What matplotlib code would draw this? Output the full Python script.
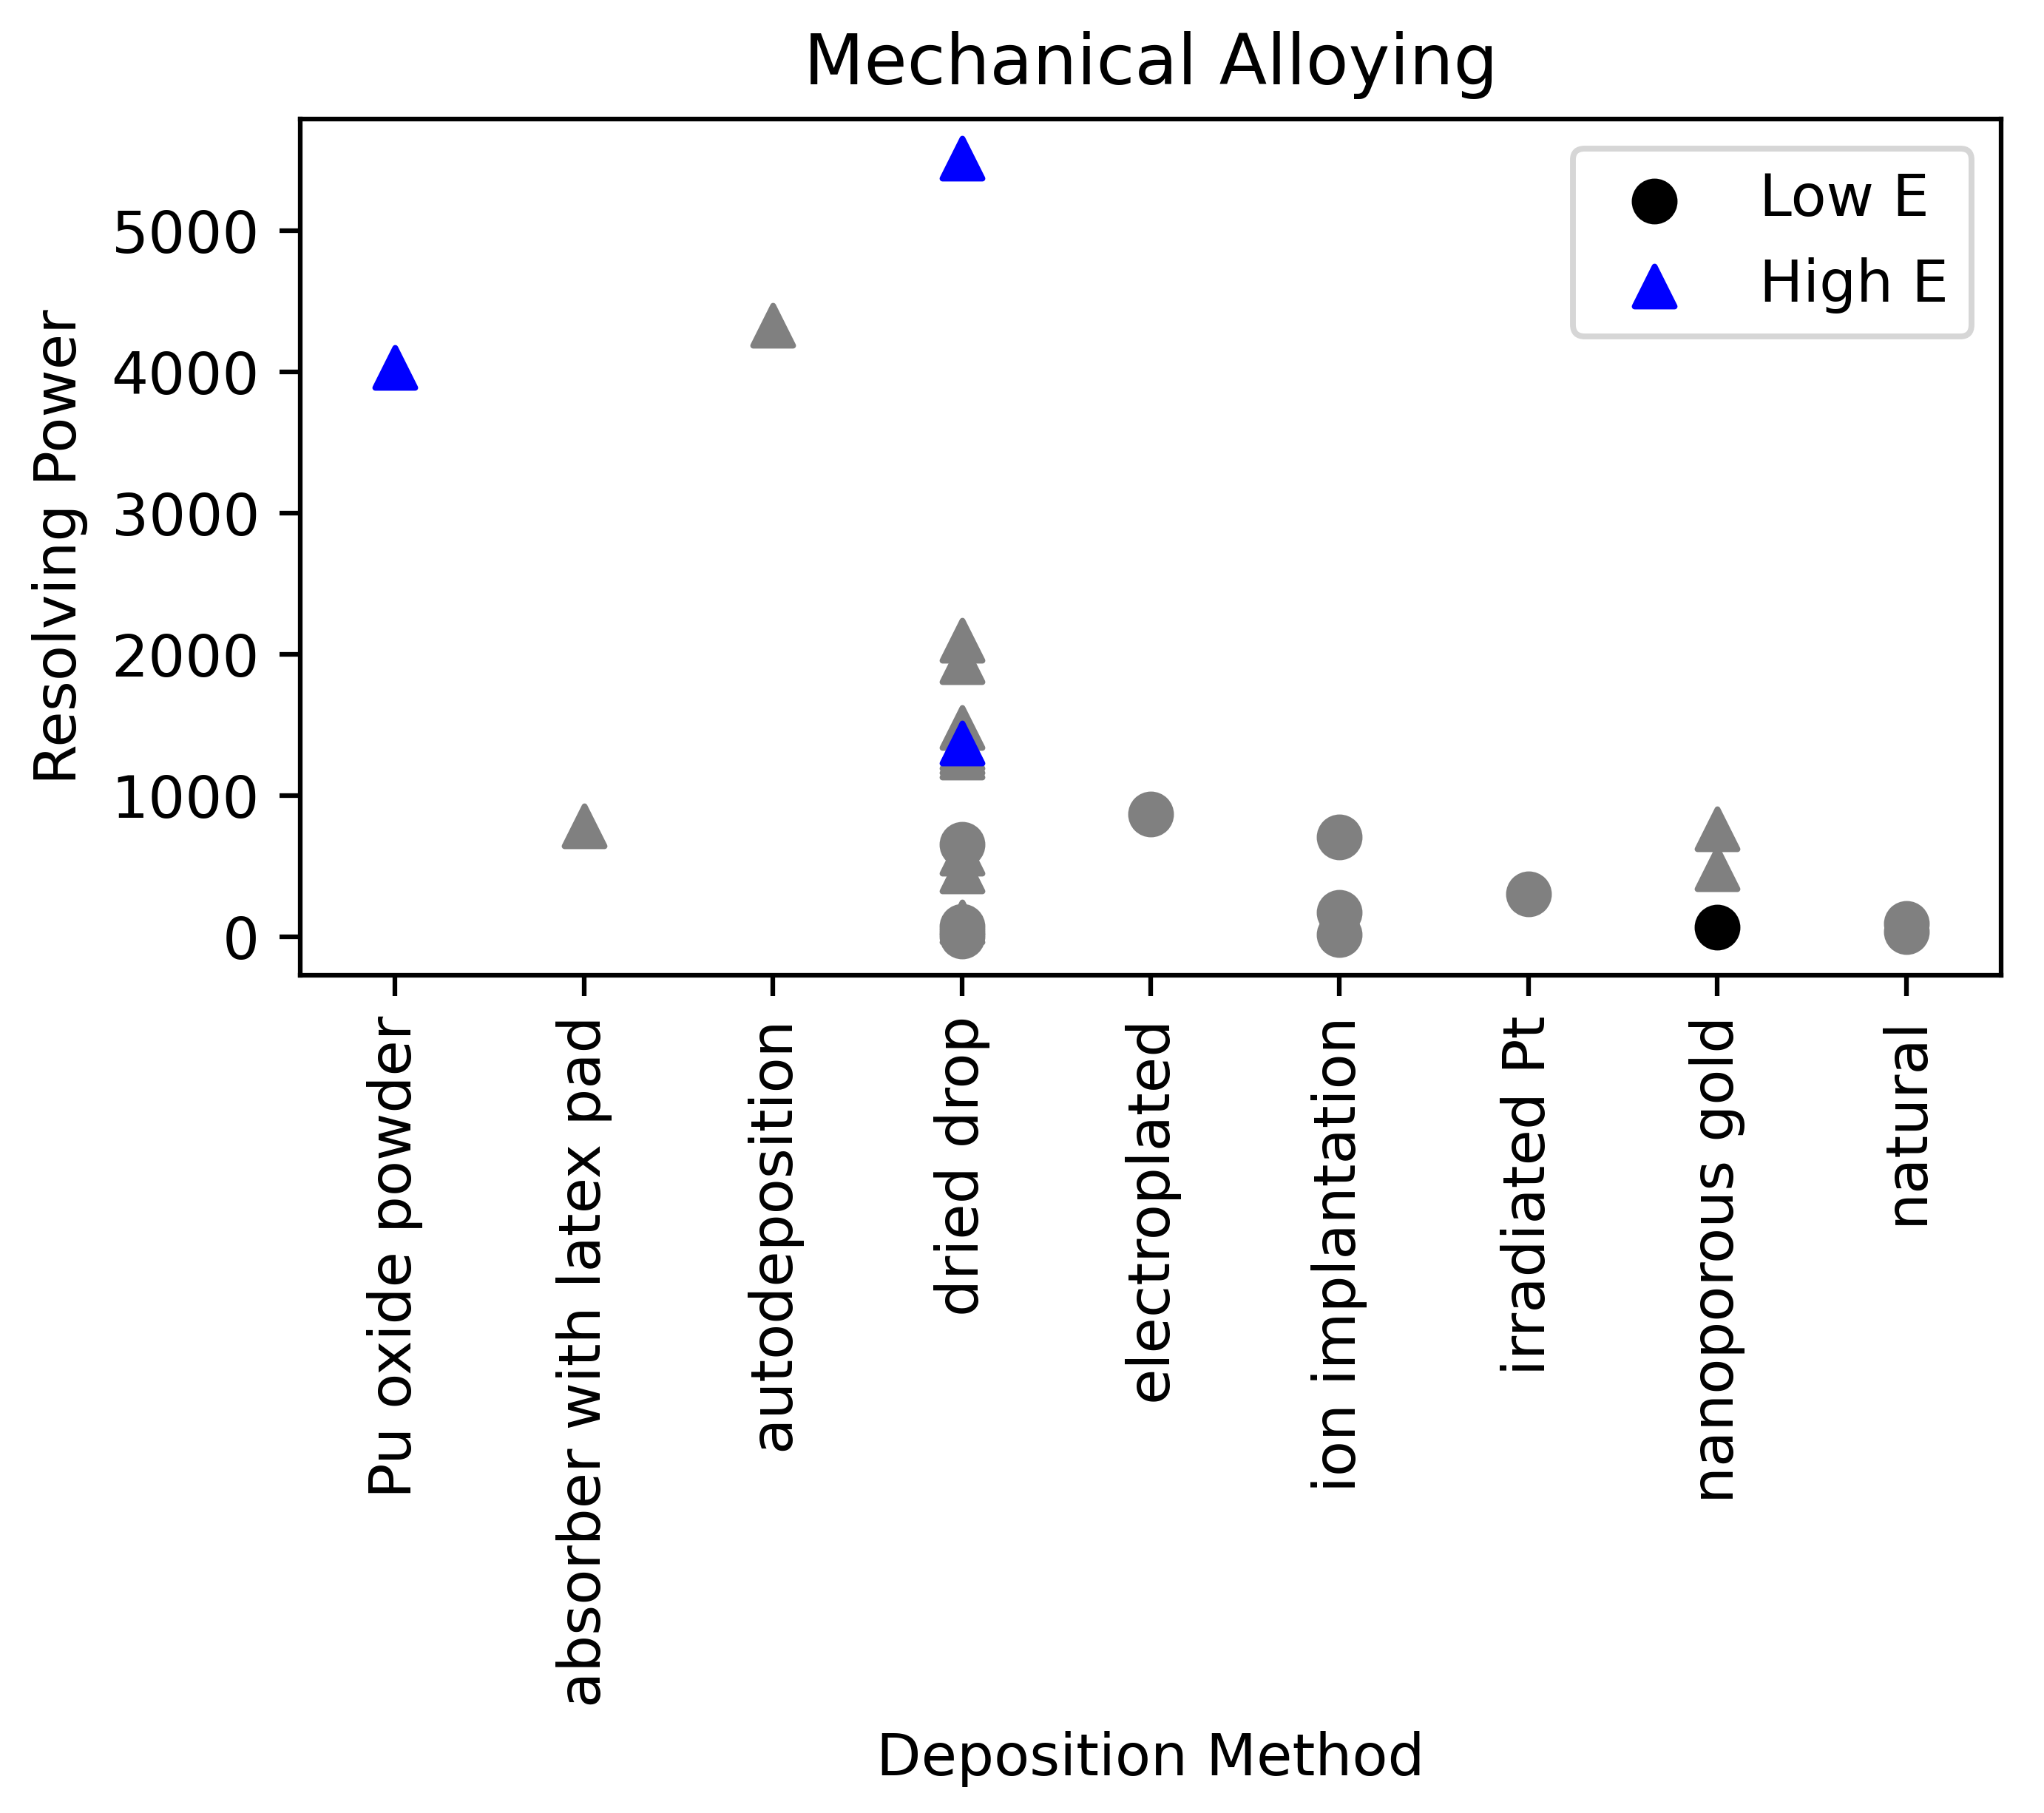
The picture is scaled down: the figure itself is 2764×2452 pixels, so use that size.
import matplotlib
matplotlib.use("Agg")
import matplotlib.pyplot as plt
import numpy as np

# deposition methods on the x axis
methods = ["Pu oxide powder", "absorber with latex pad", "autodeposition",
           "dried drop", "electroplated", "ion implantation",
           "irradiated Pt", "nanoporous gold", "natural"]

# other methods (grey), low energy = circles
other_low_x = [3, 3, 3, 3, 4, 5, 5, 5, 6, 8, 8]
other_low_y = [656, 75, 40, 5, 870, 706, 176, 18, 306, 95, 39]

# other methods (grey), high energy = triangles
other_high_x = [1, 2, 3, 3, 3, 3, 3, 3, 3, 3, 3, 7, 7]
other_high_y = [787, 4330, 2099, 1948, 1484, 1338, 1307, 1276, 594, 469, 104, 764, 483]

# mechanical alloying
mech_low_x = [7]
mech_low_y = [67]
mech_high_x = [0, 3, 3]
mech_high_y = [4034, 5516, 1375]

dpi = 567
fig = plt.figure(figsize=(2764 / dpi, 2452 / dpi), dpi=dpi)
ax = fig.add_axes([0.1470, 0.46215, 0.83191, 0.47206])

ms = 47
ax.scatter(other_low_x, other_low_y, s=ms, marker="o", color="gray")
ax.scatter(other_high_x, other_high_y, s=ms, marker="^", color="gray")
ax.scatter(mech_low_x, mech_low_y, s=ms, marker="o", color="black", label="Low E")
ax.scatter(mech_high_x, mech_high_y, s=ms, marker="^", color="blue", label="High E")

ax.set_xticks(np.arange(len(methods)))
ax.set_xticklabels(methods, rotation=90)
ax.set_xlim(-0.5, len(methods) - 0.5)
ax.set_xlabel("Deposition Method")
ax.set_ylabel("Resolving Power")
ax.set_title("Mechanical Alloying")
ax.legend(loc="upper right")

fig.savefig("out.png", dpi=dpi)
